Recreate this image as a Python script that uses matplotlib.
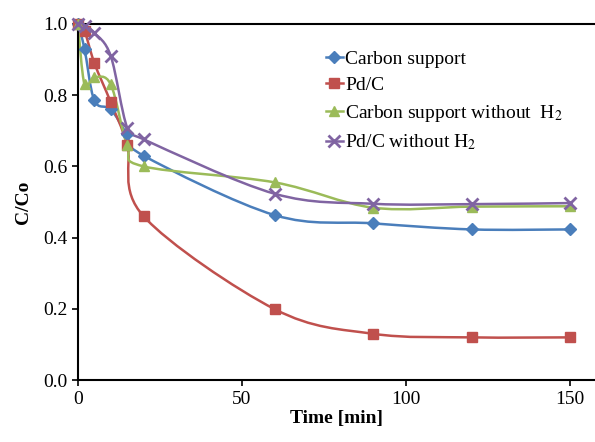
import numpy as np
import matplotlib
matplotlib.use("Agg")
import matplotlib.pyplot as plt
from matplotlib.path import Path
from matplotlib.patches import PathPatch
from matplotlib.lines import Line2D

time = [0, 2, 5, 10, 15, 20, 60, 90, 120, 150]
carbon = [1.0, 0.93, 0.785, 0.76, 0.69, 0.63, 0.463, 0.44, 0.423, 0.423]
pdc = [1.0, 0.98, 0.89, 0.78, 0.66, 0.46, 0.199, 0.13, 0.12, 0.12]
carbon_noh2 = [1.0, 0.83, 0.85, 0.83, 0.66, 0.60, 0.555, 0.484, 0.487, 0.488]
pdc_noh2 = [1.0, 0.995, 0.975, 0.91, 0.709, 0.676, 0.523, 0.495, 0.494, 0.497]

labels = ["Carbon support", "Pd/C", "Carbon support without  H$_2$", "Pd/C without H$_2$"]
colors = ["#4A7EBB", "#C0504D", "#9BBB59", "#8064A2"]
markers = ["D", "s", "^", "x"]
msizes = [6.5, 6.5, 7.5, 9]

plt.rcParams["font.family"] = ["Liberation Serif", "DejaVu Serif"]
plt.rcParams["mathtext.fontset"] = "stix"


def smooth_path(x, y):
    # Excel-like smoothed line: Catmull-Rom segments as cubic Beziers
    pts = np.column_stack([x, y]).astype(float)
    n = len(pts)
    verts = [pts[0]]
    codes = [Path.MOVETO]
    for i in range(n - 1):
        p0 = pts[i - 1] if i > 0 else pts[i]
        p1 = pts[i]
        p2 = pts[i + 1]
        p3 = pts[i + 2] if i + 2 < n else pts[i + 1]
        c1 = p1 + (p2 - p0) / 6.0
        c2 = p2 - (p3 - p1) / 6.0
        verts += [c1, c2, p2]
        codes += [Path.CURVE4] * 3
    return Path(verts, codes)


fig = plt.figure(figsize=(5.95, 4.42), dpi=100)
ax = fig.add_axes([0.131, 0.140, 0.869, 0.806])

series = [carbon, pdc, carbon_noh2, pdc_noh2]
handles = []
for vals, lab, c, m, ms in zip(series, labels, colors, markers, msizes):
    ax.add_patch(PathPatch(smooth_path(time, vals), facecolor="none",
                           edgecolor=c, lw=1.8, zorder=2))
    ax.plot(time, vals, linestyle="none", marker=m, color=c, ms=ms,
            mew=2 if m == "x" else 1, zorder=3, clip_on=False)
    handles.append(Line2D([], [], color=c, marker=m, ms=ms, lw=1.8,
                          mew=2 if m == "x" else 1))

ax.set_xlim(0, 157.6)
ax.set_ylim(0, 1.0)
ax.set_xticks([0, 50, 100, 150])
ax.set_yticks([0.0, 0.2, 0.4, 0.6, 0.8, 1.0])
ax.set_yticklabels(["0.0", "0.2", "0.4", "0.6", "0.8", "1.0"])
ax.tick_params(direction="out", length=4, width=1.2, labelsize=14)
ax.spines["right"].set_visible(False)
for s in ["left", "bottom", "top"]:
    ax.spines[s].set_linewidth(1.5)

ax.set_xlabel("Time [min]", fontsize=14, fontweight="bold", labelpad=2)
ax.set_ylabel("C/Co", fontsize=14, fontweight="bold", labelpad=8)

ax.legend(handles, labels, loc="upper left", bbox_to_anchor=(0.464, 0.948),
          frameon=False, fontsize=14, handlelength=0.9, handletextpad=0.1,
          labelspacing=0.45, borderaxespad=0)

fig.savefig("out.png", dpi=100)
